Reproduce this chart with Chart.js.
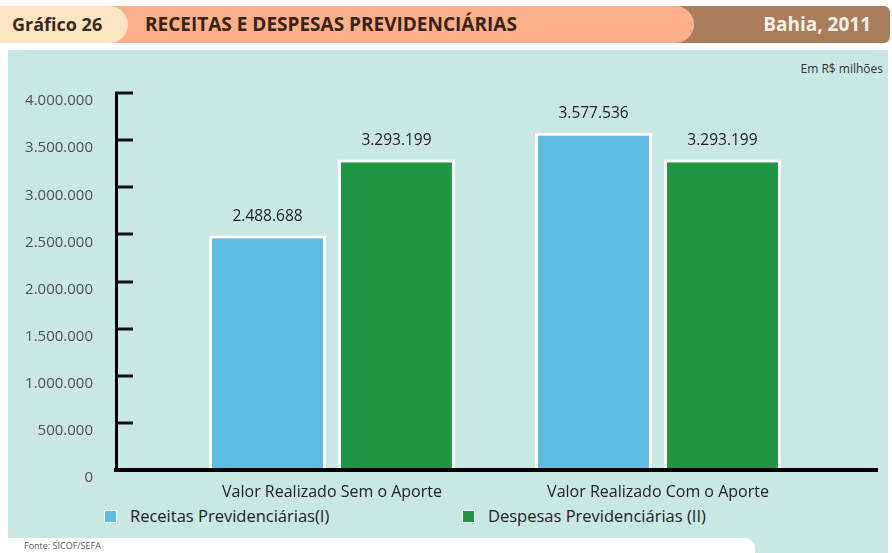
<!DOCTYPE html>
<html><head><meta charset="utf-8">
<script src="https://cdn.jsdelivr.net/npm/chart.js@4.4.0/dist/chart.umd.min.js"></script>
<style>
html,body{margin:0;padding:0;background:#fff;}
#wrap{position:relative;width:892px;height:553px;overflow:hidden;font-family:'Open Sans',sans-serif;}
.abs{position:absolute;}
.panel{left:8px;top:50px;width:880px;height:503px;background:#c9e7e3;}
.foot{left:0;top:538px;width:755px;height:15px;background:#fff;border-top-right-radius:10px;}
.hb{left:600px;top:6px;width:290px;height:37px;background:#a97c5c;border-radius:0 6px 6px 0;}
.hs{left:100px;top:6px;width:594px;height:37px;background:#fbb08a;border-radius:0 19px 19px 0;}
.hc{left:0;top:6px;width:128px;height:37px;background:#fde4c2;border-radius:0 19px 19px 0;}
.ht{top:6px;height:37px;line-height:37px;font-weight:700;white-space:nowrap;}
.unit{right:9px;top:60px;font-size:12px;color:#333;white-space:nowrap;}
.fonte{left:24px;top:539px;font-size:9px;color:#555;white-space:nowrap;}
.lg{top:505px;height:22px;line-height:22px;font-size:16.5px;color:#222;white-space:nowrap;}
.sq{display:inline-block;width:11px;height:11px;border:1px solid #fff;vertical-align:middle;margin-right:13px;position:relative;top:-1px;}
canvas{position:absolute;left:0;top:0;}
</style>
</head>
<body>
<div id="wrap">
  <div class="abs panel"></div>
  <div class="abs foot"></div>
  <div class="abs hb"></div>
  <div class="abs hs"></div>
  <div class="abs hc"></div>
  <div class="abs ht" style="left:12px;font-size:18px;color:#3a2a1c;">Gráfico 26</div>
  <div class="abs ht" style="left:145px;font-size:19px;color:#3a2216;">RECEITAS E DESPESAS PREVIDENCIÁRIAS</div>
  <div class="abs ht" style="right:21px;font-size:19px;color:#fbf1e6;">Bahia, 2011</div>
  <div class="abs unit">Em R$ milhões</div>
  <div class="abs fonte">Fonte: SICOF/SEFA</div>
  <div id="legend"></div>
  <canvas id="c" width="892" height="553"></canvas>
</div>
<script>
const categories = ['Valor Realizado Sem o Aporte', 'Valor Realizado Com o Aporte'];
const seriesNames = ['Receitas Previdenciárias(I)', 'Despesas Previdenciárias (II)'];
const receitas = [2488688, 3577536];
const despesas = [3293199, 3293199];
const yTickValues = [0, 500000, 1000000, 1500000, 2000000, 2500000, 3000000, 3500000, 4000000];
const seriesColors = ['#5fbde1', '#1f9643'];

function fmt(v){
  return String(Math.round(v)).replace(/\B(?=(\d{3})+(?!\d))/g, '.');
}

// legend (HTML)
const legendPos = [104, 462];
const lg = document.getElementById('legend');
seriesNames.forEach((n,i)=>{
  const d = document.createElement('div');
  d.className = 'abs lg';
  d.style.left = legendPos[i] + 'px';
  d.innerHTML = '<span class="sq" style="background:'+seriesColors[i]+'"></span>' + n;
  lg.appendChild(d);
});

const valueLabels = {
  id:'valueLabels',
  afterDatasetsDraw(chart){
    const ctx = chart.ctx;
    ctx.save();
    ctx.font = '15.5px "Open Sans"';
    ctx.fillStyle = '#222';
    ctx.textAlign = 'center';
    ctx.textBaseline = 'middle';
    chart.data.datasets.forEach((ds,di)=>{
      const meta = chart.getDatasetMeta(di);
      meta.data.forEach((el,i)=>{
        ctx.fillText(fmt(ds.data[i].y), el.x, el.y - 19);
      });
    });
    ctx.restore();
  }
};

const tickMarks = {
  id:'tickMarks',
  afterDraw(chart){
    const y = chart.scales.y, ctx = chart.ctx;
    ctx.save();
    ctx.strokeStyle = '#111';
    ctx.lineWidth = 3;
    y.ticks.forEach(t=>{
      if (t.value === 0) return;
      const py = Math.round(y.getPixelForValue(t.value));
      ctx.beginPath();
      ctx.moveTo(y.right - 1, py);
      ctx.lineTo(y.right + 17, py);
      ctx.stroke();
    });
    ctx.restore();
  }
};

new Chart(document.getElementById('c'), {
  type:'bar',
  data:{
    datasets:[
      {label:seriesNames[0], data:receitas.map((v,i)=>({x:i,y:v})), backgroundColor:seriesColors[0], borderColor:'#ffffff', borderWidth:3, borderSkipped:'bottom'},
      {label:seriesNames[1], data:despesas.map((v,i)=>({x:i,y:v})), backgroundColor:seriesColors[1], borderColor:'#ffffff', borderWidth:3, borderSkipped:'bottom'}
    ]
  },
  options:{
    responsive:false,
    animation:false,
    devicePixelRatio:1,
    categoryPercentage:0.791,
    barPercentage:0.907,
    layout:{padding:{top:93,right:15,left:0,bottom:0}},
    plugins:{legend:{display:false},tooltip:{enabled:false},title:{display:false}},
    scales:{
      x:{
        type:'linear', min:-0.6626, max:1.6718, offset:false,
        grid:{display:false, offset:false},
        border:{display:true,color:'#000',width:4,z:1},
        afterBuildTicks(s){ s.ticks = categories.map((c,i)=>({value:i})); },
        afterFit(s){ s.height = 83; },
        ticks:{autoSkip:false,maxRotation:0,padding:5,color:'#222',font:{family:'Open Sans',size:16},callback:(v)=>categories[v]}
      },
      y:{
        min:0, max:4000000,
        afterBuildTicks(s){ s.ticks = yTickValues.map(v=>({value:v})); },
        afterFit(s){ s.width = 116; },
        grid:{display:false},
        border:{display:true,color:'#000',width:3,z:1},
        ticks:{padding:15,labelOffset:8,color:'#505050',font:{family:'Open Sans',size:15},callback:(v)=>fmt(v)}
      }
    }
  },
  plugins:[valueLabels,tickMarks]
});
</script>
</body></html>
